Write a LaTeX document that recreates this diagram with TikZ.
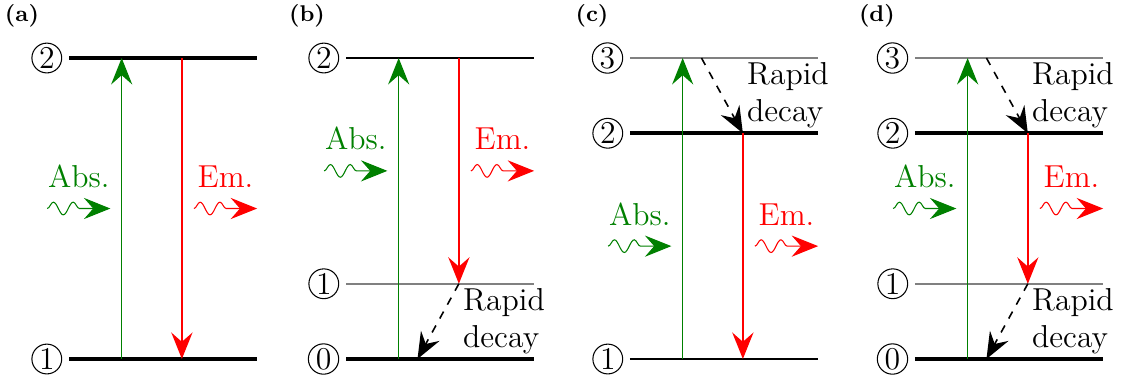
\documentclass[tikz,border=0pt]{standalone}
\usepackage{amsmath}
\usetikzlibrary{arrows.meta,decorations.pathmorphing}

\begin{document}
\begin{tikzpicture}[x=1cm, y=1cm,
        >={Stealth[length=10pt,width=8pt,inset=3.5pt]},
        every node/.style={font=\fontsize{12}{14}\selectfont},
        lvlthick/.style={line width=1.6pt},
        lvlmed/.style={line width=1.1pt},
        lvlthin/.style={line width=0.8pt, gray},
        absarr/.style={->, semithick, green!50!black},
        emarr/.style={->, semithick, red},
        decayarr/.style={->, semithick, dashed},
        photon/.style={->, thin, decorate,
            decoration={snake, amplitude=2.4pt, segment length=7.5pt, post length=8.8pt}},
        lvlnum/.style={circle, draw, thin, inner sep=0.5pt, minimum size=0.39cm, anchor=east},
        panellbl/.style={font=\fontsize{8.6}{10}\selectfont\bfseries},
        decaytxt/.style={align=left, anchor=west, inner sep=0pt}]
    \useasboundingbox (0,-0.279) rectangle (14.897,4.771);

    % ==== PANEL (a) ====
    \node[panellbl] (lbla) at (0.292,4.558) {(a)};
    \begin{scope}[xshift=0.917cm]
        \coordinate (a1L) at (0,0); \coordinate (a1R) at (2.5,0);
        \coordinate (a2L) at (0,4); \coordinate (a2R) at (2.5,4);
        \draw[lvlthick] (a1L) -- (a1R);
        \draw[lvlthick] (a2L) -- (a2R);
        \node[lvlnum] (na1) at ([xshift=-0.09cm]a1L) {1};
        \node[lvlnum] (na2) at ([xshift=-0.09cm]a2L) {2};
        % transitions
        \coordinate (aUpB) at (0.7,0); \coordinate (aUpT) at (0.7,4);
        \coordinate (aDnT) at (1.5,4); \coordinate (aDnB) at (1.5,0);
        \draw[absarr] (aUpB) -- (aUpT);
        \draw[emarr] (aDnT) -- (aDnB);
        % photons
        \coordinate (aInL) at (-0.29,2); \coordinate (aInR) at (0.55,2);
        \coordinate (aOutL) at (1.66,2); \coordinate (aOutR) at (2.5,2);
        \draw[photon, green!50!black] (aInL) -- (aInR);
        \draw[photon, red] (aOutL) -- (aOutR);
        \node[green!50!black, anchor=base] (absa) at (0.13,2.28) {Abs.};
        \node[red, anchor=base] (ema) at (2.08,2.28) {Em.};
    \end{scope}

    % ==== PANEL (b) ====
    \node[panellbl] (lblb) at (4.080,4.558) {(b)};
    \begin{scope}[xshift=4.598cm]
        \coordinate (b0L) at (0,0); \coordinate (b0R) at (2.5,0);
        \coordinate (b1L) at (0,1); \coordinate (b1R) at (2.5,1);
        \coordinate (b2L) at (0,4); \coordinate (b2R) at (2.5,4);
        \draw[lvlthick] (b0L) -- (b0R);
        \draw[lvlthin] (b1L) -- (b1R);
        \draw[lvlmed] (b2L) -- (b2R);
        \node[lvlnum] (nb0) at ([xshift=-0.09cm]b0L) {0};
        \node[lvlnum] (nb1) at ([xshift=-0.09cm]b1L) {1};
        \node[lvlnum] (nb2) at ([xshift=-0.09cm]b2L) {2};
        % transitions
        \coordinate (bUpB) at (0.7,0); \coordinate (bUpT) at (0.7,4);
        \coordinate (bDnT) at (1.5,4); \coordinate (bDnB) at (1.5,1);
        \coordinate (bDcE) at (0.95,0);
        \draw[absarr] (bUpB) -- (bUpT);
        \draw[emarr] (bDnT) -- (bDnB);
        \draw[decayarr] (bDnB) -- (bDcE);
        \node[decaytxt] (rdb) at (1.55,0.5) {Rapid\\decay};
        % photons
        \coordinate (bInL) at (-0.29,2.5); \coordinate (bInR) at (0.55,2.5);
        \coordinate (bOutL) at (1.66,2.5); \coordinate (bOutR) at (2.5,2.5);
        \draw[photon, green!50!black] (bInL) -- (bInR);
        \draw[photon, red] (bOutL) -- (bOutR);
        \node[green!50!black, anchor=base] (absb) at (0.13,2.78) {Abs.};
        \node[red, anchor=base] (emb) at (2.08,2.78) {Em.};
    \end{scope}

    % ==== PANEL (c) ====
    \node[panellbl] (lblc) at (7.867,4.558) {(c)};
    \begin{scope}[xshift=8.372cm]
        \coordinate (c1L) at (0,0); \coordinate (c1R) at (2.5,0);
        \coordinate (c2L) at (0,3); \coordinate (c2R) at (2.5,3);
        \coordinate (c3L) at (0,4); \coordinate (c3R) at (2.5,4);
        \draw[lvlmed] (c1L) -- (c1R);
        \draw[lvlthick] (c2L) -- (c2R);
        \draw[lvlthin] (c3L) -- (c3R);
        \node[lvlnum] (nc1) at ([xshift=-0.09cm]c1L) {1};
        \node[lvlnum] (nc2) at ([xshift=-0.09cm]c2L) {2};
        \node[lvlnum] (nc3) at ([xshift=-0.09cm]c3L) {3};
        % transitions
        \coordinate (cUpB) at (0.7,0); \coordinate (cUpT) at (0.7,4);
        \coordinate (cDcS) at (0.95,4);
        \coordinate (cDnT) at (1.5,3); \coordinate (cDnB) at (1.5,0);
        \draw[absarr] (cUpB) -- (cUpT);
        \draw[decayarr] (cDcS) -- (cDnT);
        \draw[emarr] (cDnT) -- (cDnB);
        \node[decaytxt] (rdc) at (1.55,3.5) {Rapid\\decay};
        % photons
        \coordinate (cInL) at (-0.29,1.5); \coordinate (cInR) at (0.55,1.5);
        \coordinate (cOutL) at (1.66,1.5); \coordinate (cOutR) at (2.5,1.5);
        \draw[photon, green!50!black] (cInL) -- (cInR);
        \draw[photon, red] (cOutL) -- (cOutR);
        \node[green!50!black, anchor=base] (absc) at (0.13,1.78) {Abs.};
        \node[red, anchor=base] (emc) at (2.08,1.78) {Em.};
    \end{scope}

    % ==== PANEL (d) ====
    \node[panellbl] (lbld) at (11.654,4.558) {(d)};
    \begin{scope}[xshift=12.159cm]
        \coordinate (d0L) at (0,0); \coordinate (d0R) at (2.5,0);
        \coordinate (d1L) at (0,1); \coordinate (d1R) at (2.5,1);
        \coordinate (d2L) at (0,3); \coordinate (d2R) at (2.5,3);
        \coordinate (d3L) at (0,4); \coordinate (d3R) at (2.5,4);
        \draw[lvlthick] (d0L) -- (d0R);
        \draw[lvlthin] (d1L) -- (d1R);
        \draw[lvlthick] (d2L) -- (d2R);
        \draw[lvlthin] (d3L) -- (d3R);
        \node[lvlnum] (nd0) at ([xshift=-0.09cm]d0L) {0};
        \node[lvlnum] (nd1) at ([xshift=-0.09cm]d1L) {1};
        \node[lvlnum] (nd2) at ([xshift=-0.09cm]d2L) {2};
        \node[lvlnum] (nd3) at ([xshift=-0.09cm]d3L) {3};
        % transitions
        \coordinate (dUpB) at (0.7,0); \coordinate (dUpT) at (0.7,4);
        \coordinate (dDcS) at (0.95,4);
        \coordinate (dDnT) at (1.5,3); \coordinate (dDnB) at (1.5,1);
        \coordinate (dDcE) at (0.95,0);
        \draw[absarr] (dUpB) -- (dUpT);
        \draw[decayarr] (dDcS) -- (dDnT);
        \draw[emarr] (dDnT) -- (dDnB);
        \draw[decayarr] (dDnB) -- (dDcE);
        \node[decaytxt] (rdd1) at (1.55,3.5) {Rapid\\decay};
        \node[decaytxt] (rdd2) at (1.55,0.5) {Rapid\\decay};
        % photons
        \coordinate (dInL) at (-0.29,2); \coordinate (dInR) at (0.55,2);
        \coordinate (dOutL) at (1.66,2); \coordinate (dOutR) at (2.5,2);
        \draw[photon, green!50!black] (dInL) -- (dInR);
        \draw[photon, red] (dOutL) -- (dOutR);
        \node[green!50!black, anchor=base] (absd) at (0.13,2.28) {Abs.};
        \node[red, anchor=base] (emd) at (2.08,2.28) {Em.};
    \end{scope}
\end{tikzpicture}
\end{document}
